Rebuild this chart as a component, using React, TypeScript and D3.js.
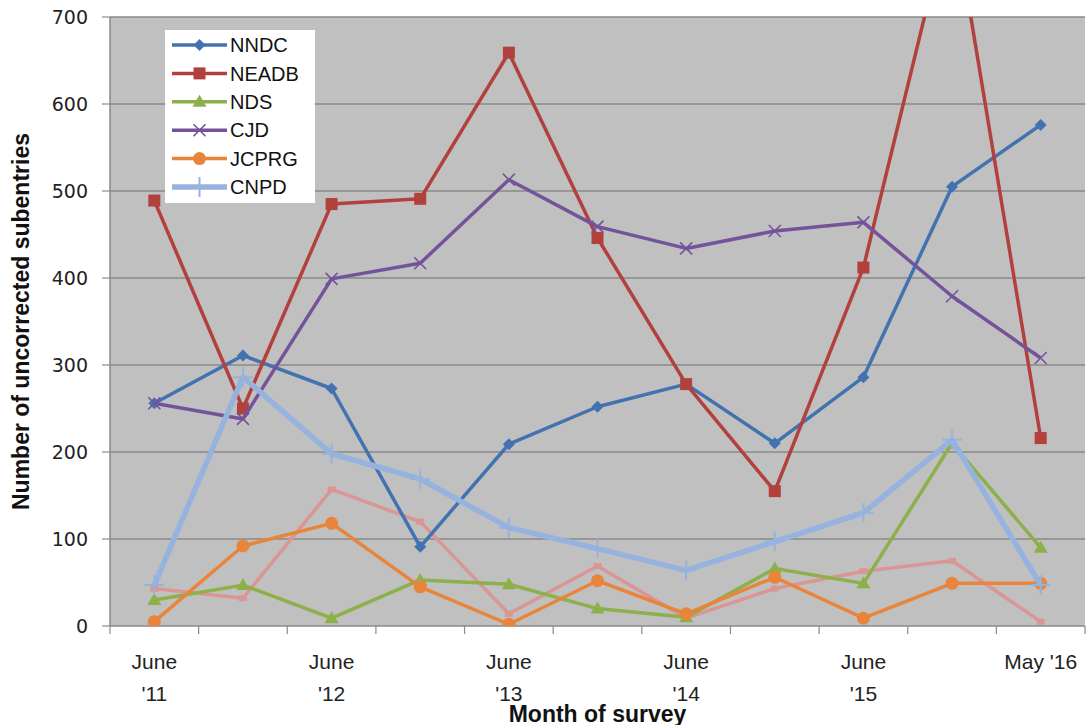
import React from "react";
import * as d3 from "d3";

const categories = ["Jun 11", "Dec 11", "Jun 12", "Dec 12", "Jun 13", "Dec 13", "Jun 14", "Dec 14", "Jun 15", "Dec 15", "May 16"];
const tickLabels = [["June", "'11"], null, ["June", "'12"], null, ["June", "'13"], null, ["June", "'14"], null, ["June", "'15"], null, ["May '16"]];
const yTicks = [0, 100, 200, 300, 400, 500, 600, 700];

const nndc = [256, 311, 273, 91, 209, 252, 278, 210, 286, 505, 576];
const neadb = [489, 250, 485, 491, 659, 446, 278, 155, 412, 830, 216];
const nds = [30, 47, 9, 53, 48, 20, 10, 66, 49, 210, 90];
const cjd = [256, 238, 399, 417, 513, 459, 434, 454, 464, 379, 308];
const jcprg = [5, 92, 118, 45, 2, 52, 14, 56, 9, 49, 49];
const cnpd = [47, 286, 198, 169, 113, 89, 64, 97, 130, 214, 47];
const other = [43, 32, 157, 120, 14, 69, 9, 43, 63, 75, 5];

type S = { name: string | null; values: number[]; color: string; marker: string; width: number };
const series: S[] = [
  { name: null, values: other, color: "#D99694", marker: "dash", width: 3.5 },
  { name: "NNDC", values: nndc, color: "#4272B0", marker: "diamond", width: 3.5 },
  { name: "NEADB", values: neadb, color: "#B2403D", marker: "square", width: 3.5 },
  { name: "NDS", values: nds, color: "#8CB04A", marker: "triangle", width: 3.5 },
  { name: "CJD", values: cjd, color: "#74539B", marker: "x", width: 3.5 },
  { name: "JCPRG", values: jcprg, color: "#E8853A", marker: "circle", width: 3.5 },
  { name: "CNPD", values: cnpd, color: "#95B3DE", marker: "plus", width: 5.5 },
];
const legendOrder = ["NNDC", "NEADB", "NDS", "CJD", "JCPRG", "CNPD"];

const W = 1088, H = 725;
const L = 110, R = 1085, T = 17, B = 626;

function Marker({ type, x, y, color }: { type: string; x: number; y: number; color: string }) {
  switch (type) {
    case "diamond":
      return <path d={`M${x},${y - 6}L${x + 6},${y}L${x},${y + 6}L${x - 6},${y}Z`} fill={color} />;
    case "square":
      return <rect x={x - 6} y={y - 6} width={12} height={12} fill={color} />;
    case "triangle":
      return <path d={`M${x},${y - 7}L${x + 7},${y + 5}L${x - 7},${y + 5}Z`} fill={color} />;
    case "circle":
      return <circle cx={x} cy={y} r={6.5} fill={color} />;
    case "x":
      return <path d={`M${x - 6},${y - 6}L${x + 6},${y + 6}M${x - 6},${y + 6}L${x + 6},${y - 6}`} stroke={color} strokeWidth={1.6} />;
    case "plus":
      return <path d={`M${x - 10},${y}L${x + 10},${y}M${x},${y - 10}L${x},${y + 10}`} stroke={color} strokeWidth={2} />;
    case "dash":
      return <rect x={x - 4} y={y - 3} width={8} height={6} fill={color} />;
    default:
      return null;
  }
}

export default function App() {
  const x = d3.scaleBand<string>().domain(categories).range([L, R]);
  const y = d3.scaleLinear().domain([0, 700]).range([B, T]);
  const cx = (c: string) => (x(c) as number) + x.bandwidth() / 2;
  const line = d3
    .line<number>()
    .x((_, i) => cx(categories[i]))
    .y((v) => y(v));

  const legendX = 165, legendY = 30;
  return (
    <svg width={W} height={H} style={{ position: "absolute", left: 0, top: 0, background: "#fff" }}>
      <defs>
        <clipPath id="plot">
          <rect x={L} y={T} width={R - L} height={B - T} />
        </clipPath>
      </defs>
      <rect x={L} y={T} width={R - L} height={B - T} fill="#C0C0C0" />
      {yTicks.map((t) => (
        <g key={t}>
          {t > 0 && <line x1={L} x2={R} y1={y(t)} y2={y(t)} stroke="#8A8A8A" strokeWidth={1.5} />}
          <line x1={L - 8} x2={L} y1={y(t)} y2={y(t)} stroke="#8A8A8A" strokeWidth={1.2} />
          <text x={88} y={y(t)} dy="0.36em" textAnchor="end" fontFamily="'DejaVu Sans', sans-serif" fontSize={19} fill="#222">
            {t}
          </text>
        </g>
      ))}
      <line x1={L} x2={L} y1={T} y2={B} stroke="#8A8A8A" strokeWidth={1.5} />
      <line x1={L} x2={R} y1={B} y2={B} stroke="#8A8A8A" strokeWidth={1.5} />
      {categories.map((c) => (
        <line key={c} x1={x(c)} x2={x(c)} y1={B} y2={B + 8} stroke="#8A8A8A" strokeWidth={1.2} />
      ))}
      <line x1={R} x2={R} y1={B} y2={B + 8} stroke="#8A8A8A" strokeWidth={1.2} />
      {categories.map((c, i) => {
        const lab = tickLabels[i];
        if (!lab) return null;
        return (
          <text key={c} textAnchor="middle" fontFamily="'Liberation Sans', sans-serif" fontSize={21} fill="#222">
            {lab.map((s, j) => (
              <tspan key={j} x={cx(c)} y={669 + j * 32}>
                {s}
              </tspan>
            ))}
          </text>
        );
      })}
      <g clipPath="url(#plot)">
        {series.map((s) => (
          <g key={s.name || "other"}>
            <path d={line(s.values) || ""} fill="none" stroke={s.color} strokeWidth={s.width} strokeLinejoin="round" />
            {s.values.map((v, i) => (
              <Marker key={i} type={s.marker} x={cx(categories[i])} y={y(v)} color={s.color} />
            ))}
          </g>
        ))}
      </g>
      <rect x={legendX} y={legendY} width={150} height={173} fill="#fff" />
      {legendOrder.map((n, i) => {
        const s = series.find((q) => q.name === n)!;
        const ly = 45 + i * 28.4;
        return (
          <g key={n}>
            <line x1={172} x2={227} y1={ly} y2={ly} stroke={s.color} strokeWidth={s.width} />
            <Marker type={s.marker} x={199.5} y={ly} color={s.color} />
            <text x={230} y={ly} dy="0.36em" fontFamily="'Liberation Sans', Arial, sans-serif" fontSize={20} fill="#111">
              {n}
            </text>
          </g>
        );
      })}
      <text
        transform={`translate(29,${(T + B) / 2}) rotate(-90)`}
        textAnchor="middle"
        fontFamily="'Liberation Sans', sans-serif"
        fontWeight="bold"
        fontSize={23}
        fill="#111"
      >
        Number of uncorrected subentries
      </text>
      <text x={(L + R) / 2} y={722} textAnchor="middle" fontFamily="'Liberation Sans', sans-serif" fontWeight="bold" fontSize={23} fill="#111">
        Month of survey
      </text>
    </svg>
  );
}
